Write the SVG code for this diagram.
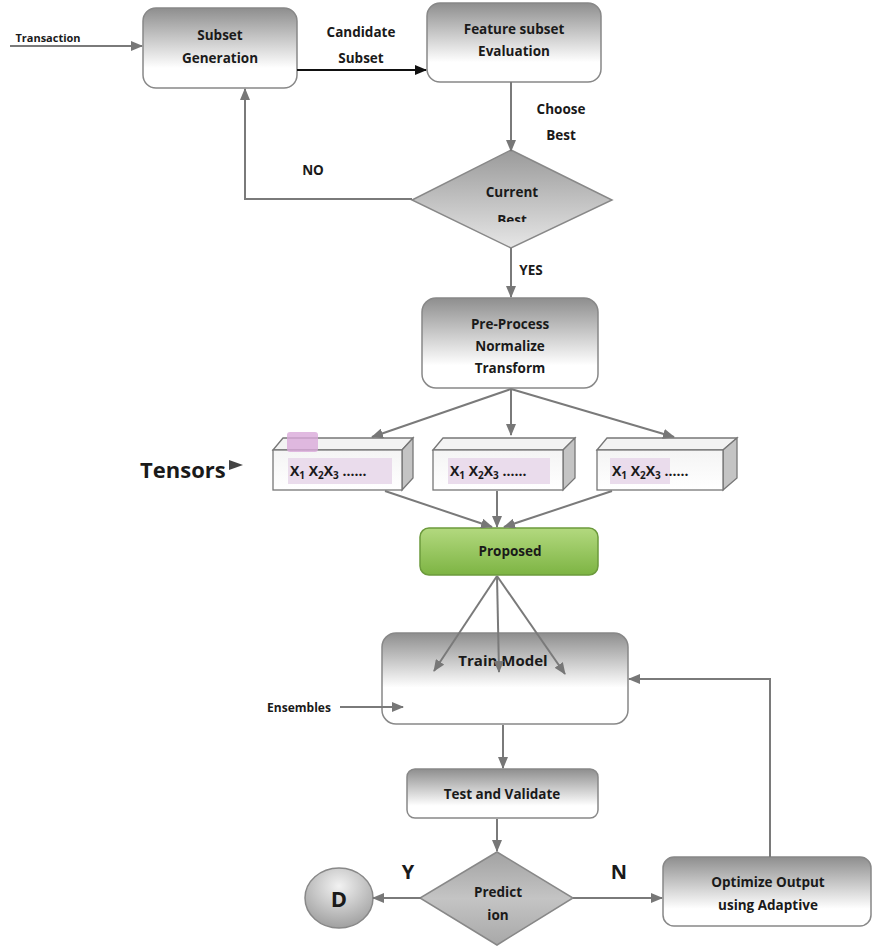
<svg xmlns="http://www.w3.org/2000/svg" width="873" height="951" viewBox="0 0 873 951">
  <defs>
    <linearGradient id="boxGrad" x1="0" y1="0" x2="0" y2="1">
      <stop offset="0" stop-color="#8e8e8e"/>
      <stop offset="0.75" stop-color="#ffffff"/>
      <stop offset="1" stop-color="#ffffff"/>
    </linearGradient>
    <linearGradient id="trainGrad" x1="0" y1="0" x2="0" y2="1">
      <stop offset="0" stop-color="#8e8e8e"/>
      <stop offset="0.6" stop-color="#ffffff"/>
      <stop offset="1" stop-color="#ffffff"/>
    </linearGradient>
    <linearGradient id="diaGrad" x1="0" y1="0" x2="0" y2="1">
      <stop offset="0" stop-color="#9a9a9a"/>
      <stop offset="1" stop-color="#e6e6e6"/>
    </linearGradient>
    <linearGradient id="predGrad" x1="0" y1="0" x2="0" y2="1">
      <stop offset="0" stop-color="#a2a2a2"/>
      <stop offset="0.5" stop-color="#c4c4c4"/>
      <stop offset="1" stop-color="#a8a8a8"/>
    </linearGradient>
    <linearGradient id="greenGrad" x1="0" y1="0" x2="0" y2="1">
      <stop offset="0" stop-color="#b3d97f"/>
      <stop offset="1" stop-color="#7db443"/>
    </linearGradient>
    <linearGradient id="frontGrad" x1="0" y1="0" x2="0" y2="1">
      <stop offset="0" stop-color="#f4f4f4"/>
      <stop offset="1" stop-color="#ffffff"/>
    </linearGradient>
    <radialGradient id="circGrad" cx="0.5" cy="0.3" r="0.7">
      <stop offset="0" stop-color="#f2f2f2"/>
      <stop offset="1" stop-color="#a0a0a0"/>
    </radialGradient>
    <marker id="ah" markerUnits="userSpaceOnUse" markerWidth="12" markerHeight="10" refX="11" refY="5" orient="auto">
      <path d="M0,0 L12,5 L0,10 z" fill="#777"/>
    </marker>
    <marker id="ahBlack" markerUnits="userSpaceOnUse" markerWidth="12" markerHeight="10" refX="11" refY="5" orient="auto">
      <path d="M0,0 L12,5 L0,10 z" fill="#111"/>
    </marker>
    <clipPath id="bestClip">
      <rect x="440" y="150" width="150" height="72"/>
    </clipPath>
  </defs>
  <style>
    text { font-family: "Open Sans", "Noto Sans", "Liberation Sans", sans-serif; font-weight: bold; fill: #1a1a1a; text-anchor: middle; }
    .lbl { font-size: 13.5px; }
    .big { font-size: 20px; }
    .box { fill: url(#boxGrad); stroke: #888; stroke-width: 1.5; }
    .con { fill: none; stroke: #7a7a7a; stroke-width: 2; marker-end: url(#ah); }
    .tfront { fill: url(#frontGrad); stroke: #777; stroke-width: 1.3; }
    .ttop { fill: #f3f3f3; stroke: #777; stroke-width: 1.3; }
    .tside { fill: #c4c4c4; stroke: #777; stroke-width: 1.3; }
    .hl { fill: #eadcec; }
    .xs { font-size: 14px; text-anchor: start; }
  </style>

  <rect width="873" height="951" fill="#ffffff"/>

  <g id="subset-generation">
    <rect class="box" x="143" y="8" width="154" height="80" rx="13"/>
    <text class="lbl" x="220" y="40">Subset</text>
    <text class="lbl" x="220" y="63">Generation</text>
  </g>

  <g id="feature-subset-evaluation">
    <rect class="box" x="427" y="3" width="174" height="79" rx="13"/>
    <text class="lbl" x="514" y="34">Feature subset</text>
    <text class="lbl" x="514" y="56">Evaluation</text>
  </g>

  <g id="current-best">
    <polygon points="511,150 612,200 511,248 412,200" fill="url(#diaGrad)" stroke="#888" stroke-width="1.5"/>
    <text class="lbl" x="512" y="197">Current</text>
    <text class="lbl" x="512" y="225" clip-path="url(#bestClip)">Best</text>
  </g>

  <g id="pre-process">
    <rect class="box" x="422" y="298" width="176" height="90" rx="14"/>
    <text class="lbl" x="510" y="329">Pre-Process</text>
    <text class="lbl" x="510" y="351">Normalize</text>
    <text class="lbl" x="510" y="373">Transform</text>
  </g>

  <g id="tensors-label">
    <text x="140" y="478" style="font-size:22px; text-anchor:start">Tensors</text>
    <path d="M229,460 L243,465 L229,470 z" fill="#444"/>
  </g>

  <g id="tensor-1">
    <polygon class="ttop" points="273,450 283,438 413,438 402,450"/>
    <polygon class="tside" points="402,450 413,438 413,478 402,490"/>
    <rect class="tfront" x="273" y="450" width="129" height="40"/>
    <rect x="287" y="432" width="31" height="20" rx="3" fill="#d9a9d9" opacity="0.8"/>
    <rect class="hl" x="288" y="458" width="104" height="26"/>
    <text class="xs" x="290" y="476">X<tspan font-size="10" dy="3">1</tspan><tspan dy="-3"> X</tspan><tspan font-size="10" dy="3">2</tspan><tspan dy="-3">X</tspan><tspan font-size="10" dy="3">3</tspan><tspan dy="-3"> ……</tspan></text>
  </g>

  <g id="tensor-2">
    <polygon class="ttop" points="433,450 443,438 575,438 563,450"/>
    <polygon class="tside" points="563,450 575,438 575,478 563,490"/>
    <rect class="tfront" x="433" y="450" width="130" height="40"/>
    <rect class="hl" x="448" y="458" width="102" height="26"/>
    <text class="xs" x="450" y="476">X<tspan font-size="10" dy="3">1</tspan><tspan dy="-3"> X</tspan><tspan font-size="10" dy="3">2</tspan><tspan dy="-3">X</tspan><tspan font-size="10" dy="3">3</tspan><tspan dy="-3"> ……</tspan></text>
  </g>

  <g id="tensor-3">
    <polygon class="ttop" points="597,450 607,438 737,438 723,450"/>
    <polygon class="tside" points="723,450 737,438 737,478 723,490"/>
    <rect class="tfront" x="597" y="450" width="126" height="40"/>
    <rect class="hl" x="610" y="458" width="60" height="26"/>
    <text class="xs" x="612" y="476">X<tspan font-size="10" dy="3">1</tspan><tspan dy="-3"> X</tspan><tspan font-size="10" dy="3">2</tspan><tspan dy="-3">X</tspan><tspan font-size="10" dy="3">3</tspan><tspan dy="-3"> ……</tspan></text>
  </g>

  <g id="proposed">
    <rect x="420" y="528" width="178" height="47" rx="9" fill="url(#greenGrad)" stroke="#6c9a3c" stroke-width="1.5"/>
    <text class="lbl" x="510" y="556">Proposed</text>
  </g>

  <g id="train-model">
    <rect x="382" y="633" width="246" height="91" rx="14" fill="url(#trainGrad)" stroke="#888" stroke-width="1.5"/>
    <text x="503" y="666" style="font-size:15px">Train Model</text>
  </g>

  <g id="test-validate">
    <rect class="box" x="407" y="769" width="191" height="49" rx="8"/>
    <text class="lbl" x="502" y="799">Test and Validate</text>
  </g>

  <g id="prediction">
    <polygon points="497,852 573,898 497,945 420,898" fill="url(#predGrad)" stroke="#888" stroke-width="1.5"/>
    <text class="lbl" x="498" y="897">Predict</text>
    <text class="lbl" x="498" y="920">ion</text>
  </g>

  <g id="decision-d">
    <ellipse cx="339" cy="898" rx="34" ry="30" fill="url(#circGrad)" stroke="#888" stroke-width="1.5"/>
    <text x="339" y="907" style="font-size:22px">D</text>
  </g>

  <g id="optimize-output">
    <rect class="box" x="663" y="857" width="208" height="69" rx="11"/>
    <text class="lbl" x="768" y="887">Optimize Output</text>
    <text class="lbl" x="768" y="910">using Adaptive</text>
  </g>

  <!-- connectors, drawn over the nodes -->
  <g id="connectors">
    <line class="con" x1="10" y1="46" x2="142" y2="46"/>
    <line x1="297" y1="70" x2="426" y2="70" stroke="#111" stroke-width="2" marker-end="url(#ahBlack)"/>
    <line class="con" x1="511" y1="82" x2="511" y2="151"/>
    <polyline class="con" points="412,199 245,199 245,89"/>
    <line class="con" x1="511" y1="248" x2="511" y2="297"/>
    <line class="con" x1="511" y1="389" x2="372" y2="437"/>
    <line class="con" x1="511" y1="389" x2="511" y2="435"/>
    <line class="con" x1="511" y1="389" x2="674" y2="437"/>
    <line class="con" x1="385" y1="491" x2="492" y2="527"/>
    <line class="con" x1="497" y1="491" x2="497" y2="527"/>
    <line class="con" x1="612" y1="491" x2="504" y2="527"/>
    <line class="con" x1="497" y1="576" x2="434" y2="671"/>
    <line class="con" x1="497" y1="576" x2="499" y2="672"/>
    <line class="con" x1="497" y1="576" x2="565" y2="674"/>
    <line class="con" x1="340" y1="707" x2="403" y2="707"/>
    <line class="con" x1="503" y1="725" x2="503" y2="768"/>
    <line class="con" x1="497" y1="819" x2="497" y2="851"/>
    <line class="con" x1="421" y1="898" x2="373" y2="898"/>
    <line class="con" x1="573" y1="898" x2="662" y2="898"/>
    <polyline class="con" points="770,857 770,679 629,679"/>
  </g>

  <!-- connector labels -->
  <g id="labels">
    <text x="48" y="42" style="font-size:11px">Transaction</text>
    <text class="lbl" x="361" y="37">Candidate</text>
    <text class="lbl" x="361" y="63">Subset</text>
    <text class="lbl" x="561" y="114">Choose</text>
    <text class="lbl" x="561" y="140">Best</text>
    <text class="lbl" x="313" y="175">NO</text>
    <text class="lbl" x="531" y="275">YES</text>
    <text x="299" y="712" style="font-size:12px">Ensembles</text>
    <text class="big" x="408" y="879">Y</text>
    <text class="big" x="619" y="879">N</text>
  </g>
</svg>
